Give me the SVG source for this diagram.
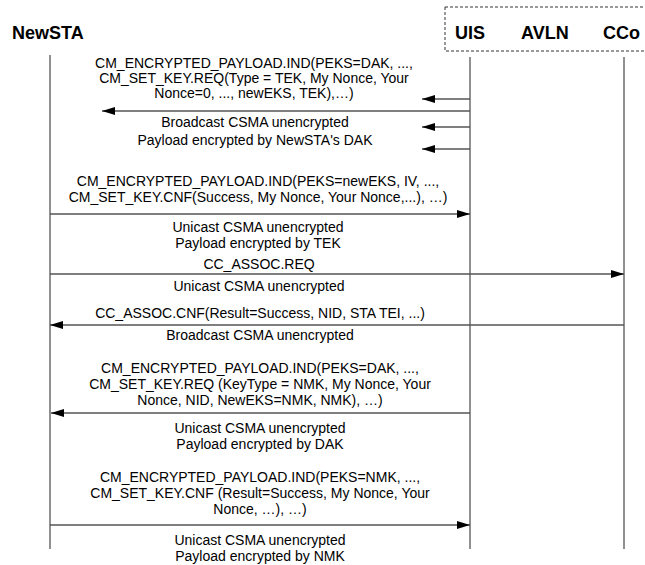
<svg xmlns="http://www.w3.org/2000/svg" width="645" height="565" viewBox="0 0 645 565">
<style>
.hdr{font-family:"Liberation Sans",Arial,sans-serif;font-size:18px;font-weight:bold;fill:#000}
.lbl{font-family:"Liberation Sans",Arial,sans-serif;font-size:14px;fill:#000;text-anchor:middle}
.life{stroke:#222;stroke-width:1;fill:none}
.msg{stroke:#555;stroke-width:1.3;fill:none;marker-end:url(#ah)}
.box{fill:none;stroke:#333;stroke-width:1;stroke-dasharray:3 2}
</style>
<defs>
<marker id="ah" markerUnits="userSpaceOnUse" markerWidth="14" markerHeight="9" refX="13" refY="4" orient="auto">
<path d="M0,0 L13,4 L0,8 z" fill="#000"/>
</marker>
</defs>
<rect width="645" height="565" fill="#fff"/>
<g id="NewSTA">
<text class="hdr" x="12" y="39">NewSTA</text>
<line class="life" x1="50" y1="55" x2="50" y2="549"/>
</g>
<g id="group-box">
<rect class="box" x="445" y="7" width="210" height="44"/>
</g>
<g id="UIS">
<text class="hdr" x="455" y="39">UIS</text>
<line class="life" x1="470" y1="57" x2="470" y2="549"/>
</g>
<g id="AVLN">
<text class="hdr" x="521" y="39">AVLN</text>
</g>
<g id="CCo">
<text class="hdr" x="603" y="39">CCo</text>
<line class="life" x1="624" y1="57" x2="624" y2="549"/>
</g>
<g id="connectors">
<line class="msg" x1="470" y1="99" x2="422" y2="99"/>
<line class="msg" x1="470" y1="111" x2="102" y2="111"/>
<line class="msg" x1="470" y1="127" x2="422" y2="127"/>
<line class="msg" x1="470" y1="149" x2="422" y2="149"/>
<line class="msg" x1="50" y1="214" x2="470" y2="214"/>
<line class="msg" x1="50" y1="274" x2="624" y2="274"/>
<line class="msg" x1="624" y1="325" x2="50" y2="325"/>
<line class="msg" x1="470" y1="413" x2="51" y2="413"/>
<line class="msg" x1="50" y1="525" x2="470" y2="525"/>
</g>
<g id="labels">
<text class="lbl" x="254" y="68">CM_ENCRYPTED_PAYLOAD.IND(PEKS=DAK, ...,</text>
<text class="lbl" x="254" y="83">CM_SET_KEY.REQ(Type = TEK, My Nonce, Your</text>
<text class="lbl" x="254" y="98">Nonce=0, ..., newEKS, TEK),…)</text>
<text class="lbl" x="255" y="127">Broadcast CSMA unencrypted</text>
<text class="lbl" x="255" y="145">Payload encrypted by NewSTA's DAK</text>
<text class="lbl" x="258" y="186">CM_ENCRYPTED_PAYLOAD.IND(PEKS=newEKS, IV, ...,</text>
<text class="lbl" x="258" y="202">CM_SET_KEY.CNF(Success, My Nonce, Your Nonce,...), …)</text>
<text class="lbl" x="258" y="232">Unicast CSMA unencrypted</text>
<text class="lbl" x="258" y="248">Payload encrypted by TEK</text>
<text class="lbl" x="259" y="269">CC_ASSOC.REQ</text>
<text class="lbl" x="259" y="291">Unicast CSMA unencrypted</text>
<text class="lbl" x="260" y="318">CC_ASSOC.CNF(Result=Success, NID, STA TEI, ...)</text>
<text class="lbl" x="260" y="340">Broadcast CSMA unencrypted</text>
<text class="lbl" x="260" y="373">CM_ENCRYPTED_PAYLOAD.IND(PEKS=DAK, ...,</text>
<text class="lbl" x="260" y="389">CM_SET_KEY.REQ (KeyType = NMK, My Nonce, Your</text>
<text class="lbl" x="260" y="405">Nonce, NID, NewEKS=NMK, NMK), …)</text>
<text class="lbl" x="260" y="433">Unicast CSMA unencrypted</text>
<text class="lbl" x="260" y="449">Payload encrypted by DAK</text>
<text class="lbl" x="260" y="482">CM_ENCRYPTED_PAYLOAD.IND(PEKS=NMK, ...,</text>
<text class="lbl" x="260" y="498">CM_SET_KEY.CNF (Result=Success, My Nonce, Your</text>
<text class="lbl" x="260" y="514">Nonce, …), …)</text>
<text class="lbl" x="260" y="545">Unicast CSMA unencrypted</text>
<text class="lbl" x="260" y="561">Payload encrypted by NMK</text>
</g>
</svg>
